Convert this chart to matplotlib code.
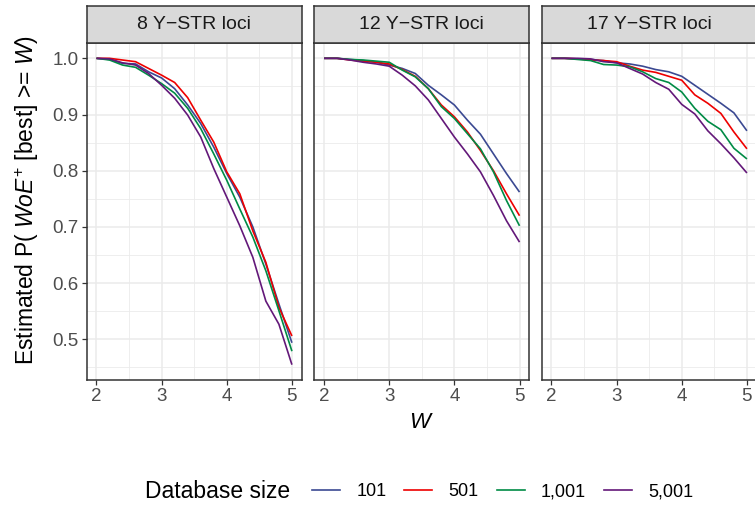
import matplotlib
matplotlib.use('Agg')
import matplotlib.pyplot as plt
from matplotlib.lines import Line2D
from matplotlib.ticker import MultipleLocator

plt.rcParams['font.family'] = ['Liberation Sans', 'DejaVu Sans']
plt.rcParams['mathtext.fontset'] = 'custom'
plt.rcParams['mathtext.rm'] = 'Liberation Sans'
plt.rcParams['mathtext.it'] = 'Liberation Sans:italic'

# data
w_vals = [2.0, 2.2, 2.4, 2.6, 2.8, 3.0, 3.2, 3.4, 3.6, 3.8, 4.0, 4.2, 4.4, 4.6, 4.8, 5.0]
panel_titles = ['8 Y\u2212STR loci', '12 Y\u2212STR loci', '17 Y\u2212STR loci']
db_sizes = ['101', '501', '1,001', '5,001']
colors = ['#3B4992', '#EE0000', '#008B45', '#631879']

# 8 loci
p8_101 = [1.0, 0.998, 0.991, 0.990, 0.976, 0.965, 0.946, 0.917, 0.884, 0.842, 0.795, 0.753, 0.700, 0.634, 0.563, 0.494]
p8_501 = [1.0, 1.0, 0.997, 0.994, 0.982, 0.970, 0.957, 0.930, 0.890, 0.851, 0.798, 0.759, 0.693, 0.637, 0.557, 0.506]
p8_1001 = [1.0, 0.997, 0.988, 0.984, 0.970, 0.955, 0.938, 0.911, 0.875, 0.830, 0.783, 0.732, 0.682, 0.622, 0.551, 0.479]
p8_5001 = [1.0, 0.999, 0.992, 0.988, 0.973, 0.952, 0.929, 0.899, 0.860, 0.804, 0.753, 0.702, 0.646, 0.568, 0.527, 0.455]

# 12 loci
p12_101 = [1.0, 1.0, 0.998, 0.996, 0.993, 0.988, 0.982, 0.973, 0.952, 0.935, 0.917, 0.890, 0.865, 0.830, 0.795, 0.762]
p12_501 = [1.0, 1.0, 0.997, 0.995, 0.993, 0.990, 0.980, 0.968, 0.946, 0.917, 0.896, 0.869, 0.836, 0.800, 0.759, 0.720]
p12_1001 = [1.0, 1.0, 0.998, 0.997, 0.995, 0.993, 0.979, 0.967, 0.946, 0.914, 0.893, 0.866, 0.839, 0.798, 0.747, 0.702]
p12_5001 = [1.0, 1.0, 0.997, 0.993, 0.990, 0.986, 0.970, 0.951, 0.926, 0.893, 0.860, 0.830, 0.798, 0.756, 0.711, 0.673]

# 17 loci
p17_101 = [1.0, 1.0, 0.999, 0.998, 0.996, 0.992, 0.990, 0.986, 0.980, 0.976, 0.968, 0.952, 0.936, 0.920, 0.903, 0.871]
p17_501 = [1.0, 1.0, 0.999, 0.997, 0.996, 0.994, 0.986, 0.979, 0.975, 0.968, 0.961, 0.935, 0.920, 0.902, 0.869, 0.839]
p17_1001 = [1.0, 1.0, 0.998, 0.996, 0.989, 0.988, 0.985, 0.976, 0.964, 0.957, 0.940, 0.911, 0.888, 0.873, 0.840, 0.821]
p17_5001 = [1.0, 1.0, 1.0, 0.999, 0.994, 0.992, 0.982, 0.972, 0.957, 0.945, 0.918, 0.901, 0.871, 0.848, 0.823, 0.796]

panel_data = [
    [p8_101, p8_501, p8_1001, p8_5001],
    [p12_101, p12_501, p12_1001, p12_5001],
    [p17_101, p17_501, p17_1001, p17_5001],
]

W_PX, H_PX = 755, 507


def frac(x0, top, w, h):
    return [x0 / W_PX, (H_PX - top - h) / H_PX, w / W_PX, h / H_PX]


fig = plt.figure(figsize=(W_PX / 100, H_PX / 100), dpi=100)

# ggplot-like limits with 5% expansion
all_vals = [v for series in panel_data for s in series for v in s]
ymin, ymax = min(all_vals), max(all_vals)
ypad = (ymax - ymin) * 0.05
xpad = (max(w_vals) - min(w_vals)) * 0.05

panel_lefts = [86.7, 314.3, 541.7]
panel_w, panel_top, panel_h = 215, 43, 337
strip_top, strip_h = 6, 37

for i, (left, title, series) in enumerate(zip(panel_lefts, panel_titles, panel_data)):
    ax = fig.add_axes(frac(left, panel_top, panel_w, panel_h))
    ax.set_facecolor('white')
    ax.xaxis.set_major_locator(MultipleLocator(1))
    ax.xaxis.set_minor_locator(MultipleLocator(0.5))
    ax.yaxis.set_major_locator(MultipleLocator(0.1))
    ax.yaxis.set_minor_locator(MultipleLocator(0.05))
    ax.grid(which='major', color='#EBEBEB', lw=1.1)
    ax.grid(which='minor', color='#EBEBEB', lw=0.6)
    ax.set_axisbelow(True)
    for s, c in zip(series, colors):
        ax.plot(w_vals, s, color=c, lw=1.2, solid_capstyle='butt')
    ax.set_xlim(min(w_vals) - xpad, max(w_vals) + xpad)
    ax.set_ylim(ymin - ypad, ymax + ypad)
    for sp in ax.spines.values():
        sp.set_color('#333333')
        sp.set_linewidth(1.1)
    ax.tick_params(which='minor', length=0)
    ax.tick_params(which='major', length=3.5, width=0.9, color='#333333',
                   labelcolor='#4D4D4D', labelsize=13.5, pad=2.5)
    ax.set_xticks([2, 3, 4, 5])
    ax.set_xticklabels(['2', '3', '4', '5'])
    if i == 0:
        ax.set_yticks([0.5, 0.6, 0.7, 0.8, 0.9, 1.0])
        ax.set_yticklabels(['0.5', '0.6', '0.7', '0.8', '0.9', '1.0'])
    else:
        ax.tick_params(axis='y', which='both', left=False, labelleft=False)

    sax = fig.add_axes(frac(left, strip_top, panel_w, strip_h))
    sax.set_facecolor('#D9D9D9')
    sax.set_xticks([])
    sax.set_yticks([])
    for sp in sax.spines.values():
        sp.set_color('#333333')
        sp.set_linewidth(1.1)
    sax.text(0.5, 0.5, title, ha='center', va='center', fontsize=14,
             color='#1A1A1A', transform=sax.transAxes)

# axis titles
fig.text(421.7 / W_PX, 1 - 423 / H_PX, '$\\mathit{W}$', ha='center', va='center',
         fontsize=16, color='black')
fig.text(27 / W_PX, 1 - 200 / H_PX,
         'Estimated P( $\\mathit{WoE}^{+}$ [best] >= $\\mathit{W}$)',
         ha='center', va='center', rotation=90, fontsize=16.5, color='black')

# legend
fig.text(145 / W_PX, 1 - 492 / H_PX, 'Database size', ha='left', va='center',
         fontsize=16.5, color='black')
handles = [Line2D([], [], color=c, lw=1.2) for c in colors]
fig.legend(handles, db_sizes, loc='center left', ncol=4,
           bbox_to_anchor=(312 / W_PX, 1 - 492 / H_PX), frameon=False,
           fontsize=13, handlelength=1.55, handletextpad=0.9,
           columnspacing=1.0, borderpad=0, borderaxespad=0)

fig.savefig('out.png', dpi=100)
